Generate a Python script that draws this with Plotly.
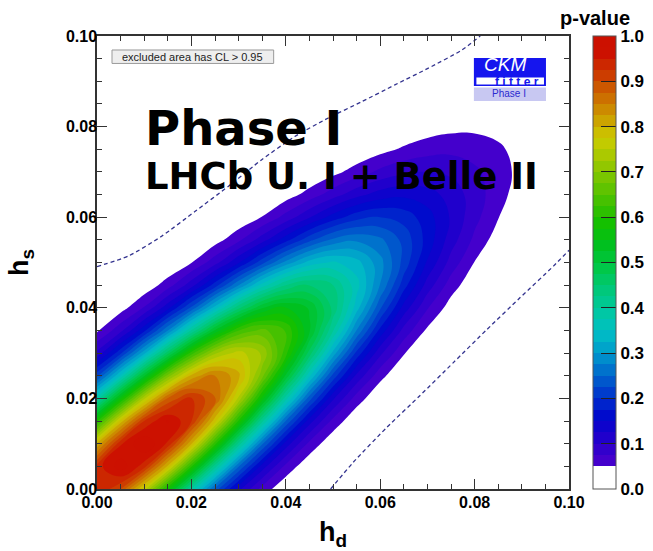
import numpy as np
import plotly.graph_objects as go

# ---------------- data ----------------
# grid of h_d (columns) and h_s (rows)
HD_GRID = [0.0, 0.005, 0.01, 0.015, 0.02, 0.025, 0.03, 0.035, 0.04, 0.045, 0.05,
           0.055, 0.06, 0.065, 0.07, 0.075, 0.08, 0.085, 0.09, 0.095, 0.1]
HS_GRID = [0.0, 0.005, 0.01, 0.015, 0.02, 0.025, 0.03, 0.035, 0.04, 0.045, 0.05,
           0.055, 0.06, 0.065, 0.07, 0.075, 0.08, 0.085, 0.09, 0.095, 0.1]

# p-value (in units of 1/1000); one row per h_s value, one column per h_d value
P_VALUE_PERMILLE = [
    [951, 901, 764, 581, 396, 242, 132,  65,  29,  11,   4,   1,   0,   0,   0,   0,   0,   0,   0,   0,   0],
    [937, 990, 937, 795, 605, 412, 252, 138,  68,  30,  12,   4,   1,   0,   0,   0,   0,   0,   0,   0,   0],
    [803, 946, 999, 946, 803, 610, 416, 254, 139,  68,  30,  12,   4,   1,   0,   0,   0,   0,   0,   0,   0],
    [597, 786, 926, 978, 926, 785, 597, 407, 248, 136,  67,  29,  12,   4,   1,   0,   0,   0,   0,   0,   0],
    [386, 567, 745, 879, 928, 878, 745, 566, 386, 236, 129,  63,  28,  11,   4,   1,   0,   0,   0,   0,   0],
    [217, 355, 522, 686, 808, 854, 808, 685, 521, 355, 217, 119,  58,  26,  10,   4,   1,   0,   0,   0,   0],
    [106, 194, 317, 465, 612, 721, 761, 721, 611, 465, 316, 193, 106,  52,  23,   9,   3,   1,   0,   0,   0],
    [ 45,  92, 168, 274, 402, 529, 624, 658, 623, 529, 402, 274, 167,  91,  45,  20,   8,   3,   1,   0,   0],
    [ 17,  38,  77, 141, 230, 337, 444, 523, 552, 522, 443, 337, 229, 140,  77,  38,  16,   6,   2,   1,   0],
    [  5,  13,  31,  63, 114, 187, 274, 361, 425, 449, 425, 360, 274, 186, 114,  62,  31,  13,   5,   2,   1],
    [  1,   4,  11,  24,  49,  90, 147, 216, 284, 335, 354, 335, 284, 216, 147,  90,  49,  24,  11,   4,   1],
    [  0,   1,   3,   8,  19,  38,  69, 113, 165, 217, 256, 270, 256, 217, 165, 112,  69,  37,  18,   8,   3],
    [  0,   0,   1,   2,   6,  14,  28,  51,  84, 123, 161, 190, 200, 190, 161, 122,  83,  51,  28,  14,   6],
    [  0,   0,   0,   1,   2,   4,  10,  20,  37,  60,  88, 116, 136, 144, 136, 115,  88,  60,  36,  20,  10],
    [  0,   0,   0,   0,   0,   1,   3,   7,  14,  26,  42,  61,  81,  95, 100,  95,  80,  61,  42,  25,  14],
    [  0,   0,   0,   0,   0,   0,   1,   2,   5,   9,  17,  28,  41,  54,  64,  68,  64,  54,  41,  28,  17],
    [  0,   0,   0,   0,   0,   0,   0,   1,   1,   3,   6,  11,  19,  27,  36,  42,  44,  42,  36,  27,  19],
    [  0,   0,   0,   0,   0,   0,   0,   0,   0,   1,   2,   4,   7,  12,  17,  23,  27,  28,  27,  23,  17],
    [  0,   0,   0,   0,   0,   0,   0,   0,   0,   0,   1,   1,   2,   4,   7,  11,  14,  16,  17,  16,  14],
    [  0,   0,   0,   0,   0,   0,   0,   0,   0,   0,   0,   0,   1,   1,   3,   4,   6,   8,  10,  10,  10],
    [  0,   0,   0,   0,   0,   0,   0,   0,   0,   0,   0,   0,   0,   0,   1,   2,   2,   4,   5,   6,   6],
]

# CL = 0.95 contour of the current constraint (dashed), two branches
CURRENT_UP_HD = [0.0, 0.0066, 0.0137, 0.0208, 0.0278, 0.0349, 0.0419, 0.049, 0.0561, 0.0631, 0.0702, 0.0773, 0.0812]
CURRENT_UP_HS = [0.0491, 0.0514, 0.0558, 0.0613, 0.0668, 0.0727, 0.0778, 0.0819, 0.0855, 0.0892, 0.0929, 0.0969, 0.1]
CURRENT_LO_HD = [0.0495, 0.0543, 0.0614, 0.0684, 0.0755, 0.0826, 0.0896, 0.0967, 0.1]
CURRENT_LO_HS = [0.0, 0.0059, 0.0136, 0.0206, 0.0279, 0.0352, 0.0422, 0.0492, 0.0527]

# colour palette of the p-value scale
P_LEVELS = [0.05, 0.1, 0.15, 0.2, 0.25, 0.3, 0.35, 0.4, 0.45, 0.5,
            0.55, 0.6, 0.65, 0.7, 0.75, 0.8, 0.85, 0.9, 0.95, 1.0]
P_COLORS = ['#4400cc', '#2200cc', '#0005cc', '#0033cc', '#0066cc', '#0099cc', '#00bfc4', '#00c8a0',
            '#00c878', '#00c848', '#00c020', '#10c000', '#40c000', '#70c400', '#a0c800', '#cccc00',
            '#cc9c00', '#cc6a00', '#cc3a00', '#cc1000']

# ---------------- figure ----------------
P = np.array(P_VALUE_PERMILLE, dtype=float) / 1000.0

# plotly fills the band [L, L+size] with the colour at L+size/2
C_START, C_END, C_SIZE = 0.05, 1.0, 0.025
n_lev = int(round((C_END - C_START) / C_SIZE)) + 1
def frac(v):
    return ((v - C_START) / C_SIZE + 0.5) / n_lev
colorscale = [[0.0, 'white'], [frac(0.05) - 1e-6, 'white']]
for v, c in zip(P_LEVELS, P_COLORS):
    colorscale.append([min(1.0, frac(v)), c])
colorscale.append([1.0, P_COLORS[-1]])

BOLD = 'Liberation Sans, Arial, Helvetica, sans-serif'

fig = go.Figure()
fig.add_trace(go.Contour(
    x=HD_GRID, y=HS_GRID, z=P, zmin=0, zmax=1,
    autocontour=False,
    contours=dict(start=C_START, end=C_END, size=C_SIZE, coloring='fill', showlines=False),
    line=dict(width=0, smoothing=1.3),
    colorscale=colorscale,
    colorbar=dict(x=1.051, xanchor='left', xpad=0, y=0.5, yanchor='middle', ypad=0,
                  len=1, thickness=23, outlinewidth=1, outlinecolor='#555555',
                  tickmode='linear', tick0=0, dtick=0.1, tickformat='.1f',
                  ticks='inside', ticklen=15, tickwidth=1.2, tickcolor='#222222',
                  tickfont=dict(family=BOLD, size=17, color='black', weight='bold')),
    hoverinfo='skip'))

for xs, ys in ((CURRENT_UP_HD, CURRENT_UP_HS), (CURRENT_LO_HD, CURRENT_LO_HS)):
    fig.add_trace(go.Scatter(x=xs, y=ys, mode='lines',
                             line=dict(color='#33338f', width=1.3, dash='4px,3px', shape='spline', smoothing=0.6),
                             showlegend=False, hoverinfo='skip'))

axis_common = dict(range=[0, 0.1], tick0=0, dtick=0.02, tickformat='.2f',
                   ticks='inside', ticklen=10, tickwidth=1.2, tickcolor='#333333',
                   showline=True, linecolor='#333333', linewidth=1.5, mirror='ticks',
                   showgrid=False, zeroline=False,
                   tickfont=dict(family=BOLD, size=16, color='black', weight='bold'),
                   minor=dict(dtick=0.005, ticks='inside', ticklen=5, tickwidth=1, tickcolor='#333333', showgrid=False))

fig.update_layout(
    width=653, height=551,
    margin=dict(l=97, r=84, t=36, b=62, autoexpand=False),
    paper_bgcolor='white', plot_bgcolor='white',
    showlegend=False,
    xaxis=dict(**axis_common, ticklabelstandoff=-2,
               title=dict(text='h<sub>d</sub>', standoff=14,
                          font=dict(family=BOLD, size=27, color='black', weight='bold'))),
    yaxis=dict(**axis_common, ticklabelstandoff=-5,
               title=dict(text='h<sub>s</sub>', standoff=29,
                          font=dict(family=BOLD, size=27, color='black', weight='bold'))),
)

def ann(text, x, y, font, xanchor='center'):
    return dict(text=text, x=x, y=y, xref='paper', yref='paper', xanchor=xanchor, yanchor='middle',
                showarrow=False, font=font)

shapes = [
    dict(type='rect', xref='paper', yref='paper', x0=0.0318, x1=0.3743, y0=0.9394, y1=0.9691,
         fillcolor='#eeeeee', line=dict(color='#999999', width=1)),
    dict(type='rect', xref='paper', yref='paper', x0=0.7985, x1=0.9512, y0=0.8897, y1=0.9515,
         fillcolor='#1515ee', line=dict(width=0)),
    dict(type='rect', xref='paper', yref='paper', x0=0.8038, x1=0.9470, y0=0.8931, y1=0.9085,
         fillcolor='white', line=dict(width=0)),
    dict(type='rect', xref='paper', yref='paper', x0=0.7985, x1=0.9512, y0=0.8567, y1=0.8864,
         fillcolor='#c8c8f2', line=dict(width=0)),
]
annotations = [
    ann('excluded area has CL > 0.95', 0.2025, 0.9537, dict(family=BOLD, size=11, color='#222222')),
    ann('Phase I', 0.097, 0.797, dict(family='DejaVu Sans', size=48, color='black', weight='bold'), 'left'),
    ann('LHCb U. I + Belle II', 0.097, 0.689, dict(family='DejaVu Sans', size=37, color='black', weight='bold'), 'left'),
    ann('CKM', 0.8643, 0.936, dict(family=BOLD, size=19, color='white', style='italic')),
    ann('f i t t e r', 0.8897, 0.899, dict(family=BOLD, size=12, color='#1515ee', weight='bold')),
    ann('Phase I', 0.8727, 0.8721, dict(family=BOLD, size=10, color='#2a2ad0')),
    ann('p-value', 1.055, 1.0397, dict(family=BOLD, size=20, color='black', weight='bold')),
]
fig.update_layout(shapes=shapes, annotations=annotations)

fig.write_html('out.html', config={'displayModeBar': False},
               post_script="document.body.style.margin='0px';document.body.style.overflow='hidden';")
